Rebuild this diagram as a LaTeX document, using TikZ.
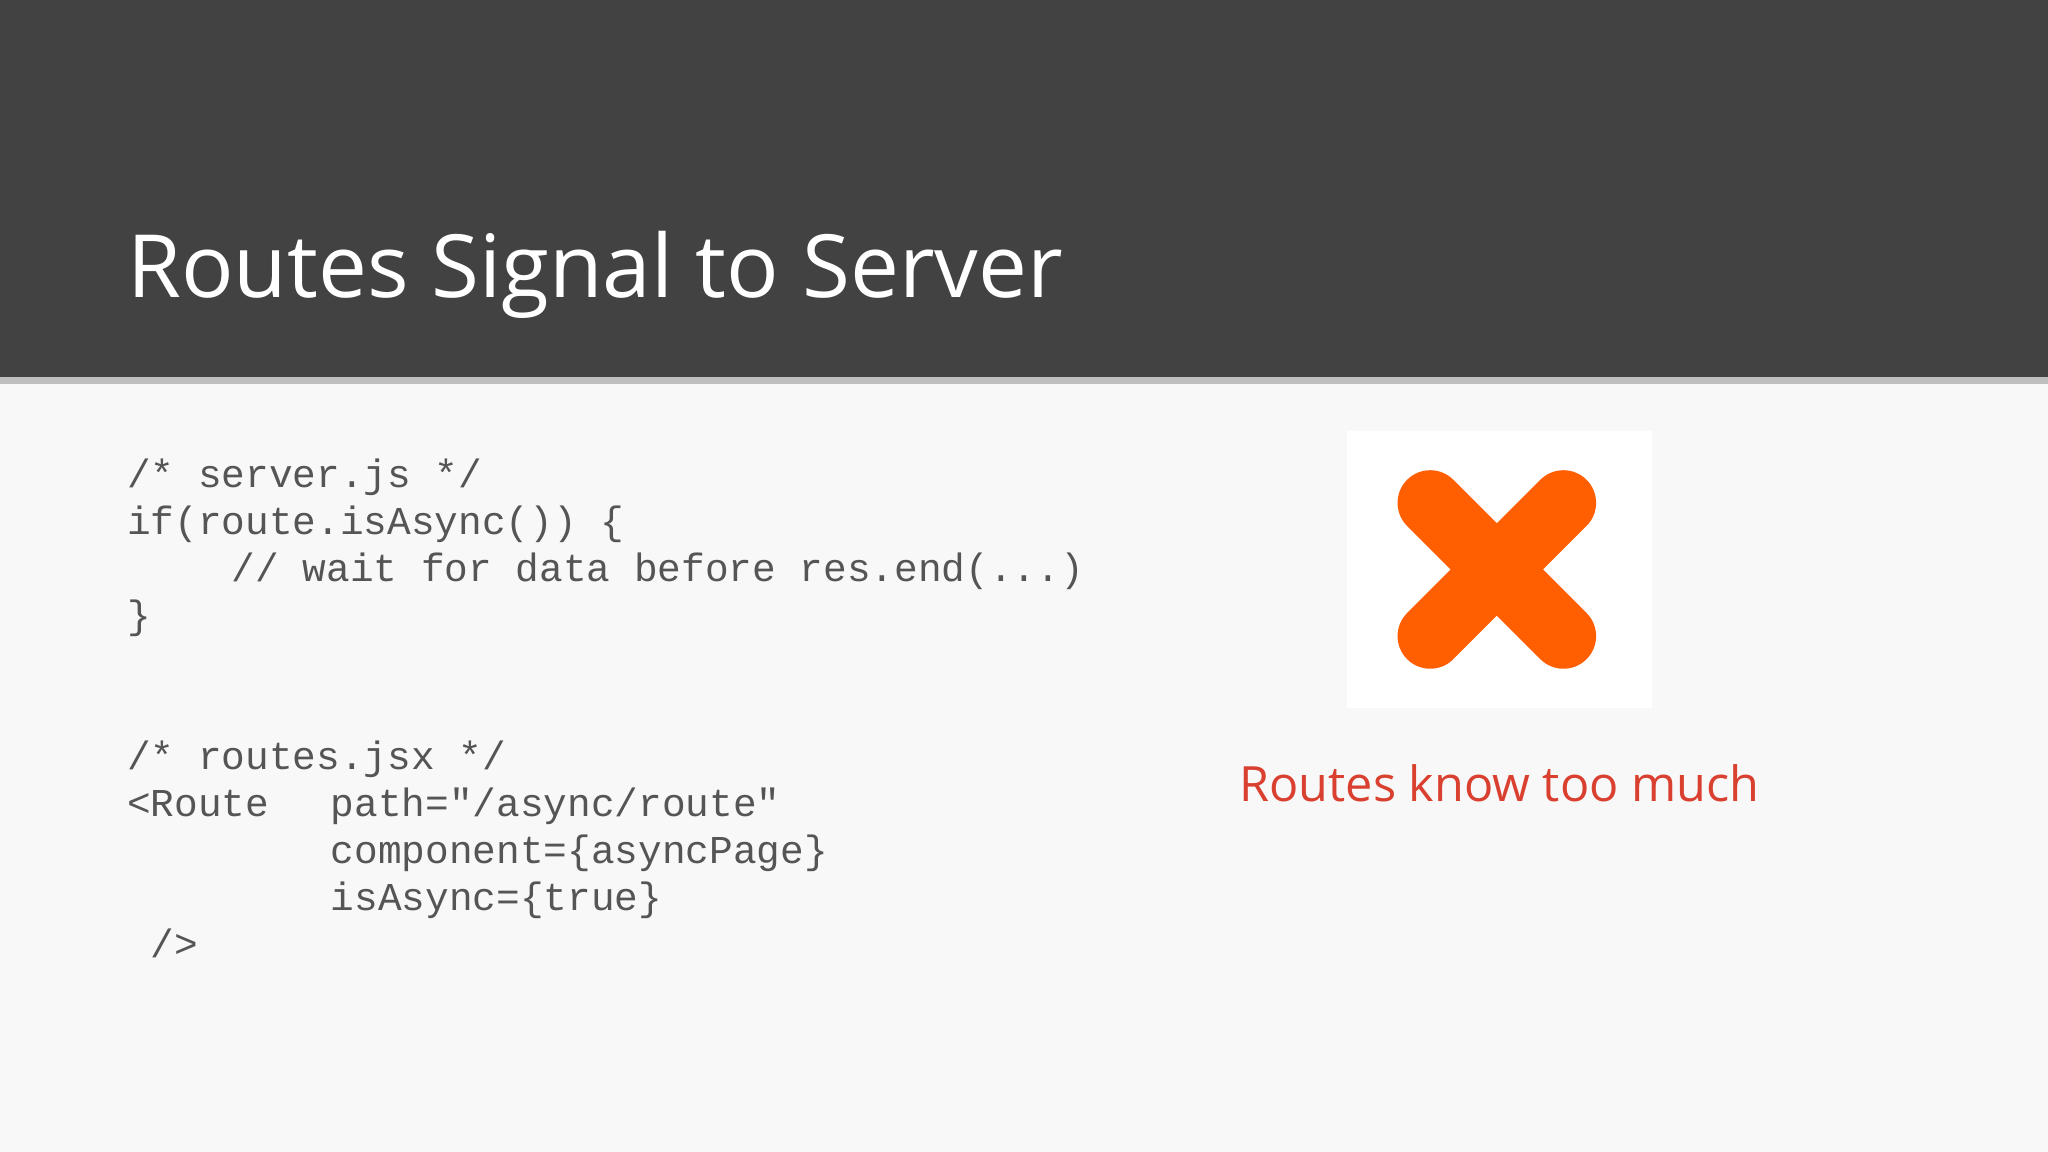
\documentclass[tikz,border=0pt]{standalone}
\usepackage{fontspec}
\setmainfont{Open Sans}
\setmonofont{Liberation Mono}
\definecolor{hdr}{HTML}{424242}
\definecolor{bg}{HTML}{F8F8F8}
\definecolor{code}{HTML}{555555}
\definecolor{xo}{HTML}{FF5F00}
\definecolor{rd}{HTML}{D9402F}
\tikzset{codeline/.style={anchor=base west,inner sep=0pt,text=code,font=\ttfamily\fontsize{15.1}{18}\selectfont}}
\begin{document}
\begin{tikzpicture}[x=0.5pt,y=-0.5pt]
\useasboundingbox (0,0) rectangle (1568,882);
\fill[bg] (0,0) rectangle (1568,882);
\fill[black!25] (0,288) rectangle (1568,294);
\fill[hdr] (0,0) rectangle (1568,289);
\node[anchor=base west,inner sep=0pt,text=white,font=\fontsize{33.4}{40}\selectfont] (title) at (97,228) {Routes Signal to Server};
\node[codeline] (c1) at (97,373) {/* server.js */};
\node[codeline] (c2) at (97,409) {if(route.isAsync()) \{};
\node[codeline] (c3) at (177,445) {// wait for data before res.end(...)};
\node[codeline] (c4) at (97,481) {\}};
\node[codeline] (c5) at (97,589) {/* routes.jsx */};
\node[codeline] (c6) at (97,625) {<Route};
\node[codeline] (c6b) at (253,625) {path="/async/route"};
\node[codeline] (c7) at (253,661) {component=\{asyncPage\}};
\node[codeline] (c8) at (253,697) {isAsync=\{true\}};
\node[codeline] (c9) at (115,733) {/>};
\fill[white] (1031,330) rectangle (1265,542);
\draw[xo,line width=25pt,line cap=round] (1095,385) -- (1197,487) (1197,385) -- (1095,487);
\node[anchor=base,inner sep=0pt,text=rd,font=\fontsize{18.6}{24}\selectfont] (lbl) at (1148,614) {Routes know too much};
\end{tikzpicture}
\end{document}
